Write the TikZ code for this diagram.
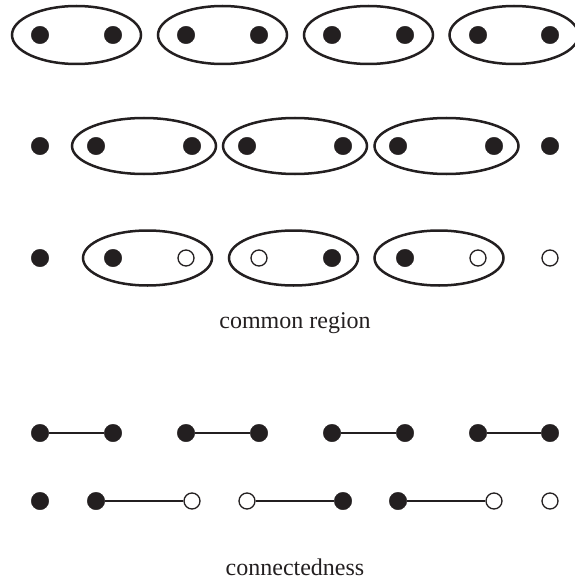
\documentclass[tikz,border=0pt]{standalone}
\usepackage{fontspec}
\setmainfont{Liberation Serif}
\begin{document}
\begin{tikzpicture}[x=1pt,y=-1pt,
  fdot/.style={circle,fill=ink,draw=ink,inner sep=0pt,minimum size=17.5pt},
  odot/.style={circle,fill=white,draw=ink,line width=1.3pt,inner sep=0pt,minimum size=16pt},
  region/.style={draw=ink,line width=2.5pt},
  link/.style={draw=ink,line width=2.2pt},
  caption/.style={anchor=base,font=\fontsize{24}{28}\selectfont,text=ink}]
\definecolor{ink}{HTML}{231F20}
\useasboundingbox (0,0) rectangle (574,583);
% row 1
\foreach \x/\n in {76.5/1,222.5/2,368.5/3,514/4}
  \draw[region] (\x,35) ellipse [x radius=64.5, y radius=29];
\foreach \x [count=\i] in {40,113,186,259,332,405,478,550}
  \node[fdot] (a\i) at (\x,35) {};
% row 2
\foreach \x in {144,295,446.5}
  \draw[region] (\x,146) ellipse [x radius=72, y radius=28];
\foreach \x [count=\i] in {40,96,192,247,343,398,494,550}
  \node[fdot] (b\i) at (\x,146) {};
% row 3
\foreach \x in {147.5,293.5,439}
  \draw[region] (\x,258) ellipse [x radius=64.5, y radius=27.5];
\node[fdot] (c1) at (40,258) {};
\node[fdot] (c2) at (113,258) {};
\node[odot] (c3) at (186,258) {};
\node[odot] (c4) at (259,258) {};
\node[fdot] (c5) at (332,258) {};
\node[fdot] (c6) at (405,258) {};
\node[odot] (c7) at (478,258) {};
\node[odot] (c8) at (550,258) {};
\node[caption] (t1) at (295,328) {common region};
% row 4
\foreach \x [count=\i] in {40,113,186,259,332,405,478,550}
  \node[fdot] (d\i) at (\x,433) {};
\draw[link] (d1) -- (d2);
\draw[link] (d3) -- (d4);
\draw[link] (d5) -- (d6);
\draw[link] (d7) -- (d8);
% row 5
\node[fdot] (e1) at (40,501) {};
\node[fdot] (e2) at (96,501) {};
\node[odot] (e3) at (192,501) {};
\node[odot] (e4) at (247,501) {};
\node[fdot] (e5) at (343,501) {};
\node[fdot] (e6) at (398,501) {};
\node[odot] (e7) at (494,501) {};
\node[odot] (e8) at (550,501) {};
\draw[link] (e2) -- (e3);
\draw[link] (e4) -- (e5);
\draw[link] (e6) -- (e7);
\node[caption] (t2) at (295,575) {connectedness};
\end{tikzpicture}
\end{document}
